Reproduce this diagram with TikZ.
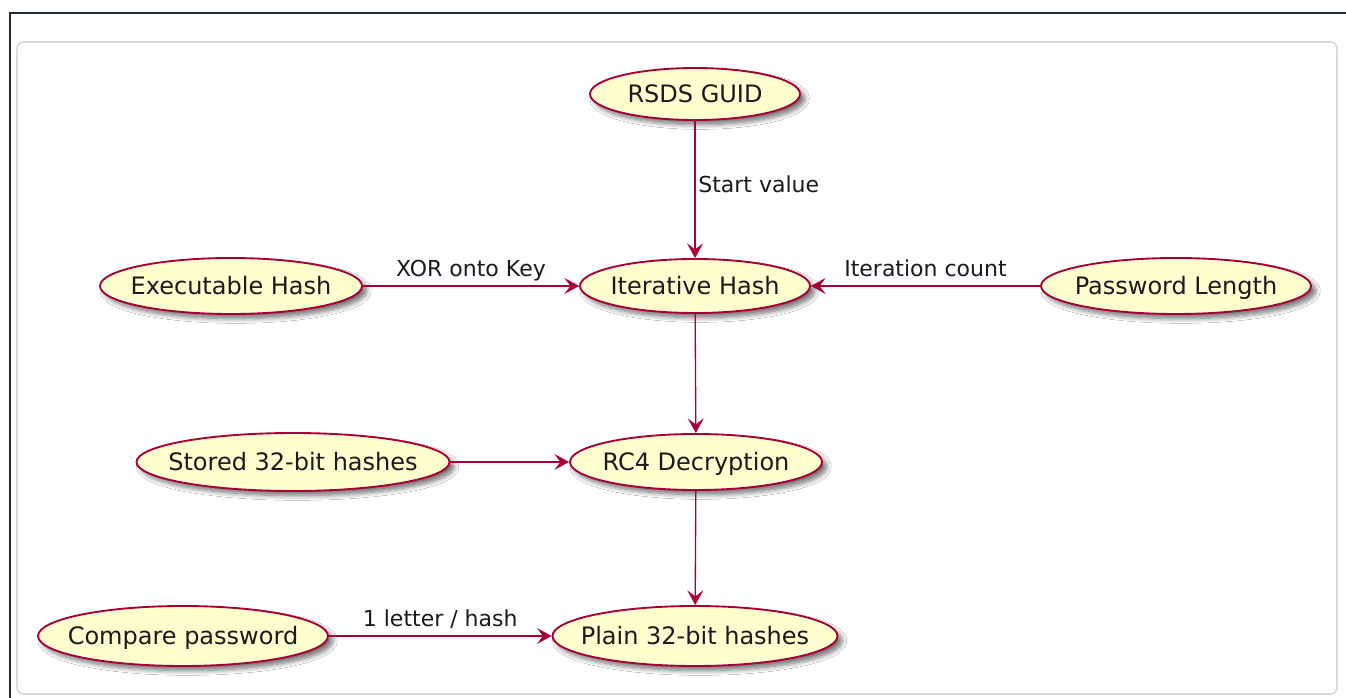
\documentclass[tikz,border=0pt]{standalone}
\usepackage{fontspec}
\setmainfont{DejaVu Sans}
\usetikzlibrary{arrows.meta,shapes.geometric,shadows.blur}
\definecolor{ucfill}{HTML}{FEFECE}
\definecolor{ucline}{HTML}{A80036}
\definecolor{frameline}{HTML}{1E2A33}
\definecolor{txt}{HTML}{1A1A1A}
\begin{document}
\begin{tikzpicture}[x=0.75pt,y=-0.75pt,
  ucase/.style={ellipse, draw=ucline, fill=ucfill, line width=1.4pt, inner sep=0pt,
    blur shadow={shadow xshift=3.5pt, shadow yshift=-3.5pt, shadow blur steps=8, shadow opacity=55, shadow blur radius=3.5pt}},
  sz/.style 2 args={minimum width=#1*0.75pt, minimum height=#2*0.75pt},
  uctext/.style={font=\fontsize{18}{21}\selectfont, text=txt, inner sep=0pt, text height=13pt, text depth=0pt},
  edge/.style={draw=ucline, line width=1pt, -{Stealth[length=11pt, width=12pt, inset=4.5pt]}},
  lbl/.style={font=\fontsize{16.5}{19}\selectfont, text=txt, inner sep=2pt, text height=12pt, text depth=3.5pt}
]
\useasboundingbox (0,0) rectangle (1346,698);
\fill[white] (0,0) rectangle (1346,698);
% outer frame
\draw[frameline, line width=2pt] (10,700) -- (10,13) -- (1350,13);
% inner panel
\draw[black!15, line width=1.2pt, rounded corners=5pt] (17,42) rectangle (1337,694);

% nodes
\node[ucase, sz={210}{52}, label={[uctext]center:RSDS GUID}] (rsds) at (695,94) {};
\node[ucase, sz={230}{54}, label={[uctext]center:Iterative Hash}] (it) at (695,286) {};
\node[ucase, sz={262}{56}, label={[uctext]center:Executable Hash}] (exe) at (231,286) {};
\node[ucase, sz={270}{56}, label={[uctext]center:Password Length}] (pwl) at (1176,286) {};
\node[ucase, sz={313}{58}, label={[uctext]center:Stored 32-bit hashes}] (st) at (293,462) {};
\node[ucase, sz={252}{56}, label={[uctext]center:RC4 Decryption}] (rc4) at (696,462) {};
\node[ucase, sz={290}{60}, label={[uctext]center:Compare password}] (cmp) at (183,636) {};
\node[ucase, sz={285}{60}, label={[uctext]center:Plain 32-bit hashes}] (pl) at (695,636) {};

% edges
\draw[edge] (rsds) -- node[lbl, right, pos=0.48] {Start value} (it);
\draw[edge] (exe) -- node[lbl, above=1pt] {XOR onto Key} (it);
\draw[edge] (pwl) -- node[lbl, above=1pt] {Iteration count} (it);
\draw[edge] (it) -- (rc4);
\draw[edge] (st) -- (rc4);
\draw[edge] (rc4) -- (pl);
\draw[edge] (cmp) -- node[lbl, above=1pt] {1 letter / hash} (pl);
\end{tikzpicture}
\end{document}
